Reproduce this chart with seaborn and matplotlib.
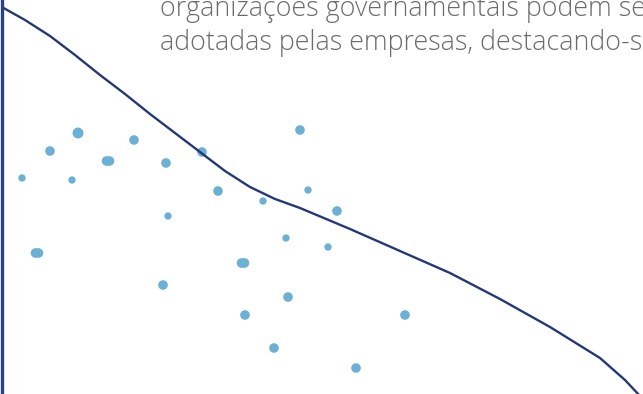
import matplotlib
matplotlib.use("Agg")
import matplotlib.pyplot as plt
import seaborn as sns
import pandas as pd

# scatter points (horizontal position, depth from top)
pt_x = [22, 50, 78, 72, 35.5, 38.5, 106.5, 109.5, 134, 166, 168, 163, 202, 218, 241.5, 244.5,
        263, 286, 300, 308, 337, 328, 288, 245, 274, 356, 405]
pt_y = [178, 151, 133, 180, 253, 253, 161, 161, 140, 163, 216, 285, 152, 191, 263, 263,
        201, 238, 130, 190, 211, 247, 297, 315, 348, 368, 315]
pt_size = ["s", "m", "l", "s", "m", "m", "m", "m", "m", "m", "s", "m", "m", "m", "m", "m",
           "s", "s", "m", "s", "m", "s", "m", "m", "m", "m", "m"]

# trend curve
curve_x = [0, 25, 50, 75, 100, 125, 150, 175, 200, 225, 250, 275, 300, 350, 400, 450,
           500, 550, 600, 625, 640]
curve_y = [6, 20, 36, 55, 75, 94, 114, 133, 152, 171, 187, 199, 208, 229, 251, 273,
           299, 327, 358, 380, 396]

line1 = "organizações governamentais podem se"
line2 = "adotadas pelas empresas, destacando-se"

sns.set_style("white")

pts = pd.DataFrame({"x": pt_x, "y": pt_y, "size": pt_size})
crv = pd.DataFrame({"x": curve_x, "y": curve_y})

fig = plt.figure(figsize=(6.43, 3.94), dpi=100)
ax = fig.add_axes([2 / 643, 0, 1 - 2 / 643, 1])

sns.lineplot(data=crv, x="x", y="y", sort=False, color="#243879", linewidth=1.7, ax=ax)
sns.scatterplot(data=pts, x="x", y="y", size="size", sizes={"s": 28, "m": 48, "l": 62},
                color="#6cb0d5", edgecolor="none", legend=False, ax=ax)

ax.set_xlim(2, 643)
ax.set_ylim(394, 0)
for side in ["top", "right", "bottom"]:
    ax.spines[side].set_visible(False)
ax.spines["left"].set_color("#2c4283")
ax.spines["left"].set_linewidth(2.4)
ax.set_xticks([])
ax.set_yticks([])
ax.set_xlabel("")
ax.set_ylabel("")

fig.text(160 / 643, 1 - 16 / 394, line1, fontsize=19.4, color="#6b6b6b",
         family=["Open Sans", "DejaVu Sans"], fontweight="light", va="baseline")
fig.text(160 / 643, 1 - 50 / 394, line2, fontsize=19.4, color="#6b6b6b",
         family=["Open Sans", "DejaVu Sans"], fontweight="light", va="baseline")

fig.savefig("out.png", dpi=100)
